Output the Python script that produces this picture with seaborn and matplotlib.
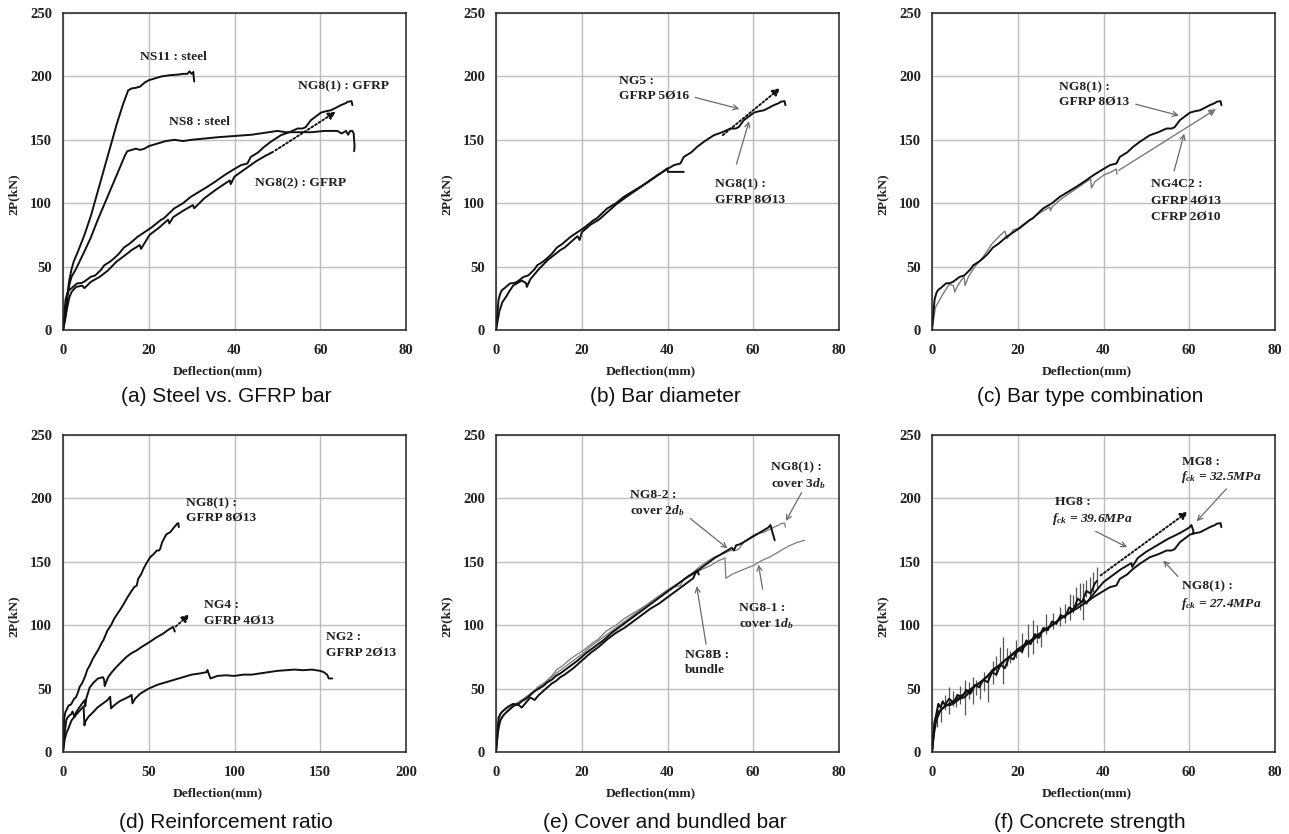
import numpy as np
import pandas as pd
import matplotlib
matplotlib.use("Agg")
import matplotlib.pyplot as plt
import seaborn as sns

sns.set_style("white")
plt.rcParams['font.family'] = ['Liberation Serif', 'DejaVu Serif']
plt.rcParams['mathtext.fontset'] = 'custom'
plt.rcParams['mathtext.it'] = 'Liberation Serif:italic:bold'
plt.rcParams['mathtext.rm'] = 'Liberation Serif:bold'
plt.rcParams['mathtext.bf'] = 'Liberation Serif:bold'

# ---------------- data ----------------
# NG8(1) reference specimen (appears in all panels)
ng81_x = [0, 0.3, 0.6, 1.0, 1.4, 2.0, 3.3, 4.2, 4.9, 5.5, 6.5, 7.5, 8.0, 9.0, 9.6, 11.0, 11.9, 13.0, 14.2, 15.5,
          17.4, 18.5, 20.5, 22.8, 23.5, 25.9, 28.0, 29.8, 31.5, 33.7, 35.5, 37.6, 39.5, 41.5, 43.0, 43.8, 45.5,
          46.9, 48.5, 50.8, 52.8, 54.7, 55.9, 56.6, 57.8, 59.0, 60.2, 61.3, 62.5, 63.5, 64.8, 66.0, 66.4, 67.3, 67.5]
ng81_y = [0, 12, 24, 28.9, 31.5, 33, 36.8, 37, 38, 39.5, 42, 43, 44.6, 48, 51, 54, 56.5, 60, 65, 68,
          73.5, 76, 80.5, 86.7, 88, 95.8, 100, 105, 108.5, 113, 117, 122, 126, 130, 131.3, 136.5, 140,
          144.4, 148.5, 153.6, 156, 158.9, 158.9, 160, 165.4, 168.5, 171.5, 172.5, 173.3, 175, 177.3, 179, 180, 180.5, 177.3]

# (a) steel vs GFRP
ns11_x = [0, 0.5, 1.0, 1.5, 2.0, 2.5, 3.5, 5, 6.5, 8, 9.5, 11, 12.5, 14, 15.2, 16, 17, 18, 19, 20, 21, 22, 23,
          24, 25, 26, 27, 28, 29, 29.5, 30, 30.4, 30.5, 30.6]
ns11_y = [0, 12, 28, 40, 48, 54, 62, 75, 90, 108, 126, 144, 162, 178, 189, 190.5, 191, 192, 195, 197, 198, 199, 200,
          200.5, 201, 201.2, 201.5, 202, 202, 204, 202, 203.5, 199, 196]
ns8_x = [0, 0.5, 1, 1.5, 2, 3, 4, 5, 6.5, 8, 9.5, 11, 12.5, 14, 14.5, 15, 16, 17, 18, 19, 20, 22, 24, 26, 28, 30,
         33, 36, 40, 44, 48, 50, 52, 55, 58, 61, 64, 65, 66, 66.5, 67, 67.5, 67.8, 68, 67.9]
ns8_y = [0, 10, 25, 36, 42, 48, 55, 62, 73, 86, 98, 110, 122, 134, 138, 141, 142, 143, 142, 143, 145, 147, 149, 150,
         149, 150, 151, 152, 153, 154, 156, 157, 156, 156, 156, 157, 157, 155, 157, 154, 157, 157, 155, 145, 141]
ng82_x = [0, 0.5, 1.0, 1.5, 2.0, 2.5, 3.1, 4.5, 5.0, 6.5, 8.6, 10.5, 12.5, 14.5, 16.0, 17.9, 18.2, 20.2, 22.5,
          24.5, 24.8, 25.7, 28.0, 30.3, 30.6, 33.0, 35.8, 38.9, 39.1, 40.0, 42.5, 45.0, 47.0, 49.0]
ng82_y = [0, 8, 18, 26, 30, 32, 34, 35, 33, 38, 42, 47, 54, 59, 63, 67, 64, 75, 81,
          87, 84, 89, 94, 98.5, 96, 104, 111, 118, 115, 121, 127, 133, 137, 140.5]

# (b) bar diameter
ng5_x = [0, 0.8, 1.5, 2.5, 3, 4, 6, 7, 7.2, 8, 10, 12, 15, 16, 18, 19, 19.5, 20, 22, 24, 26, 28, 30, 33, 36,
         39, 39.9, 40.1, 43.8]
ng5_y = [0, 15, 22, 27, 30, 35, 39, 37, 34, 40, 48, 55, 63, 65, 71, 74, 71, 77, 83, 87, 93, 99, 104, 111, 118,
         125, 127.5, 124.7, 124.7]

# (c) bar type combination
ng4c2_x = [0, 0.8, 1.5, 2.5, 4, 5, 5.3, 6, 7, 7.5, 7.7, 8.5, 10, 12, 14, 16, 17, 17.5, 19, 20, 22, 25, 27.5,
           27.6, 28, 30, 33, 36, 37, 37.2, 38, 40, 42, 43, 43.1]
ng4c2_y = [0, 18, 22, 28, 36, 35, 30, 35, 40, 42, 35, 42, 50, 58, 68, 75, 78, 72, 79, 80, 85, 92, 97,
           94, 97, 103, 110, 117, 119, 112, 117, 122, 125, 127, 123]

# (d) reinforcement ratio
ng4_x = [0, 0.5, 1.0, 1.9, 3.0, 4.9, 5.5, 6.8, 7.5, 9.7, 11.0, 12.6, 13.0, 13.5, 15.6, 18.0, 20.4, 23.3, 24.0,
         24.3, 26.3, 28.5, 31.1, 34.0, 37.0, 40.0, 42.8, 46.0, 50.6, 54.0, 58.4, 61.0, 64.2, 65.2]
ng4_y = [0, 8, 15, 25, 28, 30, 32, 27.6, 31, 35.5, 38, 40.8, 36, 42, 51, 55, 58, 59, 57,
         52, 59, 63, 67, 71, 75, 78, 80, 83, 86.8, 90, 93.4, 96, 98.7, 95]
ng2_x = [0, 1, 2, 3, 5, 8, 10, 12, 12.5, 13, 15, 18, 20, 23, 26, 27.5, 28, 30, 33, 36, 39, 40, 40.5, 42, 45,
         50, 55, 60, 65, 70, 75, 80, 83.8, 84.2, 86, 90, 95, 100, 105, 110, 115, 120, 125, 130, 135, 140, 145,
         150, 152, 154, 155, 157]
ng2_y = [0, 10, 15, 18, 25, 30, 33, 36, 21, 24, 28, 32, 35, 38, 41, 43.6, 34.4, 37, 40, 42, 44, 45, 38.4, 42, 46,
         50, 53, 55, 57, 59, 61, 62, 63, 64.7, 58, 60, 60.5, 60, 61, 61, 62, 63, 64, 64.5, 65, 64.5, 65,
         64, 63, 61, 58, 58]

# (e) cover and bundled bar
ng8_2_x = [0, 0.3, 0.6, 1, 1.5, 2.5, 3.5, 4, 5, 6, 7, 8, 9, 10, 11, 12, 13, 14, 15, 17, 19, 21, 23, 25, 27, 29,
           31, 33, 35, 37, 39, 41, 43, 45, 47, 49, 51, 53, 55, 55.5, 56, 57, 58, 60, 62, 63.5, 64, 65]
ng8_2_y = [0, 15, 27, 30, 32, 35, 37, 38, 37, 40, 42, 45, 48, 50, 52, 55, 57, 60, 62, 67, 72, 78, 83, 88, 94, 99,
           104, 109, 114, 119, 124, 129, 134, 139, 143, 148, 153, 157, 161, 159, 163, 164, 166, 170, 174, 177, 179, 167]
ng8b_x = [0, 0.5, 1, 1.5, 2, 3, 4, 5, 6, 7, 8, 9, 10, 11, 12, 13, 14, 15, 16, 18, 20, 22, 24, 26, 28, 29, 30, 32,
          34, 36, 37, 38, 40, 42, 44, 46, 46.5, 47, 47.3]
ng8b_y = [0, 18, 25, 28, 30, 33, 36, 38, 35, 39, 43, 41, 45, 48, 51, 54, 56, 59, 61, 66, 72, 78, 83, 89, 94, 96,
          98, 103, 108, 113, 115, 117, 122, 127, 132, 137, 141, 143, 140]
ng8_1_x = [0, 0.5, 1, 2, 3, 4, 6, 8, 10, 12, 14, 16, 18, 20, 22, 24, 26, 28, 30, 32, 34, 36, 38, 40, 42, 44, 46,
           48, 50, 52, 53.4, 53.6, 55, 57, 60, 62, 64, 66, 68, 70, 72]
ng8_1_y = [0, 14, 24, 30, 34, 37, 41, 46, 51, 56, 62, 67, 72, 77, 83, 88, 93, 98, 103, 108, 113, 118, 123, 128,
           132, 136, 140, 144, 147, 151, 153, 137, 140, 143, 147, 151, 154, 158, 162, 165, 167]

# (f) concrete strength
mg8_x = [0, 0.5, 1, 2, 3, 5, 8, 10, 12, 15, 18, 20, 23, 25, 28, 30, 32, 34, 35.5, 36, 37, 38, 40, 42, 44, 46.5,
         46.7, 48, 50, 52, 55, 58, 60, 60.5, 61, 60.8]
mg8_y = [0, 15, 25, 33, 36, 40, 47, 52, 57, 66, 75, 81, 88, 93, 100, 105, 110, 116, 120, 117, 122, 126, 134, 139,
         144, 149, 146, 153, 158, 162, 168, 173, 177, 179, 174, 172]
hg8_x = [0, 0.3, 0.6, 1, 1.5, 2, 2.5, 3, 4, 5, 6, 7, 8, 9, 10, 11, 12, 13, 14, 15, 16, 17, 18, 19, 20, 21, 22,
         23, 24, 25, 26, 27, 28, 29, 30, 31, 32, 33, 34, 35, 36, 37, 38, 38.5]
hg8_y = [0, 12, 22, 30, 38, 35, 40, 37, 42, 39, 45, 43, 49, 46, 53, 51, 57, 55, 63, 61, 69, 66, 75, 73, 81, 79,
         88, 85, 93, 90, 98, 96, 103, 101, 108, 106, 114, 112, 121, 118, 127, 125, 133, 135]
hg8_spike_x = [1.2, 2.2, 3.0, 3.9, 4.8, 5.7, 6.6, 7.6, 8.6, 9.6, 10.3, 11.1, 12.2, 13.1, 14.2, 15.0, 15.8, 16.6,
               17.4, 18.1, 19.5, 21.0, 22.4, 23.6, 24.6, 25.5, 26.7, 28.2, 29.8, 31.0, 32.1, 33.0, 33.7, 34.5,
               35.2, 36.0, 36.8, 37.6, 38.4]
hg8_spike_lo = [20, 23.7, 33, 30, 36, 35.5, 38, 29, 42, 38, 45, 42, 48, 39.5, 54, 60, 67, 54, 68, 70, 74, 78, 75,
                77.6, 86, 83, 93, 97, 99, 102, 104, 110, 114, 112, 104, 122, 120, 126, 130]
hg8_spike_hi = [38, 35.5, 45, 51, 48, 46, 52, 56.6, 55, 59, 57, 54, 63, 62, 72, 76, 83, 91, 82, 80, 88, 94, 101,
                104, 100, 97, 109, 110, 114, 117, 125, 124, 130, 133, 133, 136, 138, 142, 146]

captions = ["(a) Steel vs. GFRP bar", "(b) Bar diameter", "(c) Bar type combination",
            "(d) Reinforcement ratio", "(e) Cover and bundled bar", "(f) Concrete strength"]
y_ticks = [0, 50, 100, 150, 200, 250]
x_ticks_std = [0, 20, 40, 60, 80]
x_ticks_d = [0, 50, 100, 150, 200]

# ---------------- figure ----------------
W, H = 1289, 834
fig = plt.figure(figsize=(W / 100, H / 100), dpi=100)
col_left = [63, 496, 932]
row_bottom = [330, 752]
aw, ah = 343, 317
cap_x = [226, 665, 1090]
cap_y = [397, 822]

BLACK = '#111111'
GRAY = '#7a7a7a'
ARROW = '#6a6a6a'
TXT = dict(fontsize=9.7, fontweight='bold', color='#222222')

axes = []
for r in range(2):
    for c in range(3):
        ax = fig.add_axes([col_left[c] / W, 1 - row_bottom[r] / H, aw / W, ah / H])
        axes.append(ax)
        ax.set_ylim(0, 250)
        ax.set_yticks(y_ticks)
        if r == 1 and c == 0:
            ax.set_xlim(0, 200)
            ax.set_xticks(x_ticks_d)
        else:
            ax.set_xlim(0, 80)
            ax.set_xticks(x_ticks_std)
        ax.grid(True, color='#bdbdbd', lw=1.0)
        ax.set_axisbelow(True)
        for s in ax.spines.values():
            s.set_color('#222222')
            s.set_linewidth(1.1)
        ax.tick_params(length=0, labelsize=10.5, pad=8)
        ax.tick_params(axis='x', pad=10)
        for lab in ax.get_xticklabels() + ax.get_yticklabels():
            lab.set_fontweight('bold')
            lab.set_color('#222222')
        ax.set_xlabel('Deflection(mm)', fontsize=9.7, fontweight='bold', color='#222222')
        ax.set_ylabel('2P(kN)', fontsize=9.7, fontweight='bold', color='#222222')
        ax.xaxis.set_label_coords(0.45, -0.11)
        ax.yaxis.set_label_coords(-0.125, 0.43)
        fig.text(cap_x[c] / W, 1 - cap_y[r] / H, captions[r * 3 + c], family='Liberation Sans',
                 fontsize=15, ha='center', va='center', color='#111111')


def curve(ax, xs, ys, color=BLACK, lw=1.4):
    sns.lineplot(x=xs, y=ys, sort=False, estimator=None, ax=ax, color=color, lw=lw)


def note(ax, lines, x, y, dy):
    for i, t in enumerate(lines):
        ax.text(x, y - i * dy, t, ha='left', va='center', **TXT)


def pointer(ax, tail, tip):
    ax.annotate('', xy=tip, xytext=tail,
                arrowprops=dict(arrowstyle='->', color=ARROW, lw=0.9, mutation_scale=9))


def dotted_arrow(ax, tail, tip, color=BLACK):
    ax.annotate('', xy=tip, xytext=tail,
                arrowprops=dict(arrowstyle='-|>', color=color, lw=1.4, ls=(0, (1, 1.2)),
                                mutation_scale=11))


# (a)
ax = axes[0]
curve(ax, ns11_x, ns11_y)
curve(ax, ns8_x, ns8_y)
curve(ax, ng81_x, ng81_y)
curve(ax, ng82_x, ng82_y)
dotted_arrow(ax, (49, 140.5), (64.2, 173.3))
note(ax, ['NS11 : steel'], 17.9, 215, 0)
note(ax, ['NG8(1) : GFRP'], 54.9, 192.5, 0)
note(ax, ['NS8 : steel'], 24.7, 164, 0)
note(ax, ['NG8(2) : GFRP'], 44.7, 116, 0)

# (b)
ax = axes[1]
curve(ax, ng5_x, ng5_y)
curve(ax, ng81_x, ng81_y)
dotted_arrow(ax, (52.4, 152.3), (66.8, 192.2))
note(ax, ['NG5 :', 'GFRP 5Ø16'], 28.8, 196.4, 11.8)
pointer(ax, (45.8, 184), (57.4, 173.8))
note(ax, ['NG8(1) :', 'GFRP 8Ø13'], 51, 115, 12.6)
pointer(ax, (55.9, 128.7), (59.2, 166.8))

# (c)
ax = axes[2]
curve(ax, ng4c2_x, ng4c2_y, color=GRAY, lw=1.0)
curve(ax, ng81_x, ng81_y)
ax.annotate('', xy=(66.8, 175.4), xytext=(43.0, 124.7),
            arrowprops=dict(arrowstyle='-|>', color=GRAY, lw=1.0, mutation_scale=10))
note(ax, ['NG8(1) :', 'GFRP 8Ø13'], 29.6, 191.2, 11.3)
pointer(ax, (46.9, 178.6), (58.2, 168.6))
note(ax, ['NG4C2 :', 'GFRP 4Ø13', 'CFRP 2Ø10'], 51, 114.8, 12.8)
pointer(ax, (56.3, 123.4), (59, 157))

# (d)
ax = axes[3]
curve(ax, ng81_x, ng81_y)
curve(ax, ng4_x, ng4_y)
curve(ax, ng2_x, ng2_y)
dotted_arrow(ax, (64.5, 97.5), (75, 110))
note(ax, ['NG8(1) :', 'GFRP 8Ø13'], 71.6, 196, 11.8)
note(ax, ['NG4 :', 'GFRP 4Ø13'], 82.1, 116.3, 13.1)
note(ax, ['NG2 :', 'GFRP 2Ø13'], 153.1, 90.3, 11.9)

# (e)
ax = axes[4]
curve(ax, ng81_x, ng81_y, color=GRAY, lw=0.9)
curve(ax, ng8_1_x, ng8_1_y, color=GRAY, lw=0.9)
curve(ax, ng8b_x, ng8b_y)
curve(ax, ng8_2_x, ng8_2_y)
note(ax, ['NG8(1) :', r'cover 3$d_b$'], 64.2, 224.5, 12.7)
pointer(ax, (71.6, 206.6), (67.3, 180.3))
note(ax, ['NG8-2 :', r'cover 2$d_b$'], 31.3, 202.6, 12.3)
pointer(ax, (44.8, 185.5), (54.5, 159.2))
note(ax, ['NG8B :', 'bundle'], 44.1, 76.8, 12.3)
pointer(ax, (49.1, 82.9), (46.7, 132.9))
note(ax, ['NG8-1 :', r'cover 1$d_b$'], 56.7, 113.2, 11.9)
pointer(ax, (62.3, 126.3), (61.1, 150))

# (f)
ax = axes[5]
ax.vlines(hg8_spike_x, hg8_spike_lo, hg8_spike_hi, colors='#555555', lw=0.9)
curve(ax, ng81_x, ng81_y)
curve(ax, mg8_x, mg8_y)
curve(ax, hg8_x, hg8_y)
dotted_arrow(ax, (38.8, 138), (60.2, 190.8))
note(ax, ['MG8 :'], 58.4, 229, 0)
ax.text(58.0, 217, r'$f_{ck}$ = 32.5MPa', ha='left', va='center', style='italic', **TXT)
pointer(ax, (69.1, 209.2), (61.3, 180.3))
note(ax, ['HG8 :'], 28.6, 197.4, 0)
ax.text(28.1, 183.7, r'$f_{ck}$ = 39.6MPa', ha='left', va='center', style='italic', **TXT)
pointer(ax, (37.6, 175), (46.1, 160.5))
note(ax, ['NG8(1) :'], 58.4, 131, 0)
ax.text(58.0, 117, r'$f_{ck}$ = 27.4MPa', ha='left', va='center', style='italic', **TXT)
pointer(ax, (57.8, 136.8), (53.5, 152.6))

fig.savefig('out.png', dpi=100)
